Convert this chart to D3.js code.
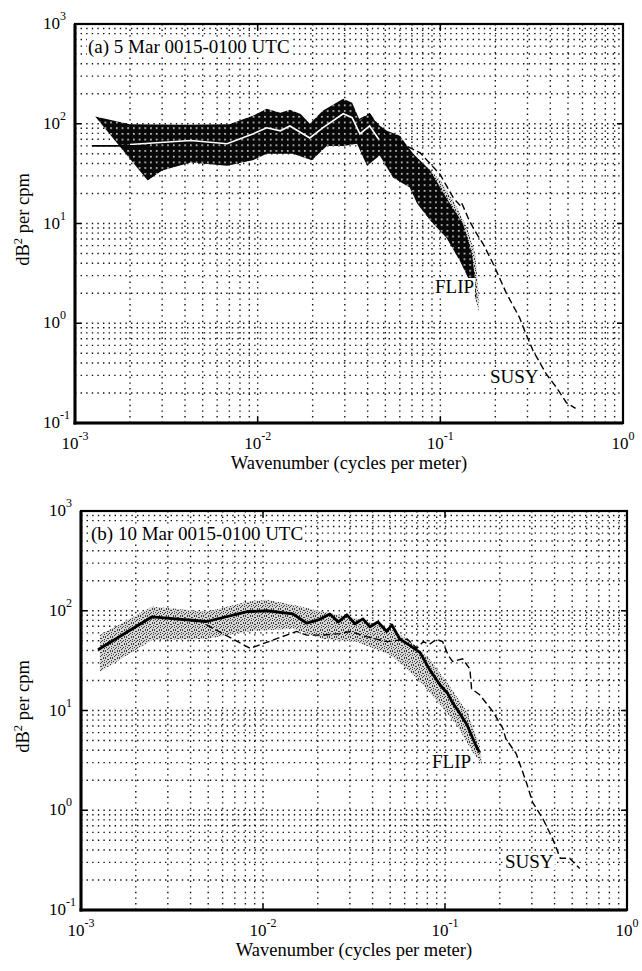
<!DOCTYPE html>
<html><head><meta charset="utf-8">
<script src="https://cdn.jsdelivr.net/npm/d3@7"></script>
<style>body{margin:0;background:#fff}svg{display:block}text{font-family:"Liberation Serif","Times New Roman",serif;fill:#000}</style>
</head><body>
<svg id="c" width="642" height="971"></svg>
<script>
// ---------------- DATA ----------------
const xTickExps = [-3, -2, -1, 0];
const yTickExps = [-1, 0, 1, 2, 3];
const xLabel = "Wavenumber (cycles per meter)";
const titleA = "(a) 5 Mar 0015-0100 UTC";
const titleB = "(b) 10 Mar 0015-0100 UTC";

// Panel (a): FLIP envelope (dark band)
const aBandUpperK = [0.00129, 0.002, 0.004, 0.007, 0.0094, 0.0112, 0.0133, 0.015, 0.0172, 0.0193, 0.0227, 0.0294, 0.0329, 0.0363, 0.041, 0.045, 0.051, 0.060, 0.071, 0.088, 0.108, 0.133, 0.149, 0.155];
const aBandUpperS = [118, 99, 98, 99, 120, 141, 129, 138, 125, 100, 135, 178, 162, 107, 129, 100, 85, 76, 50, 34, 18, 10, 5, 2.7];
const aBandLowerK = [0.00129, 0.0025, 0.003, 0.0043, 0.0068, 0.0094, 0.0112, 0.0156, 0.0198, 0.0239, 0.0294, 0.035, 0.0397, 0.0466, 0.055, 0.068, 0.0745, 0.088, 0.108, 0.128, 0.144, 0.158];
const aBandLowerS = [118, 27, 34, 41, 38, 43, 50, 50, 43, 60, 60, 63, 38, 48, 29, 23, 16, 10.7, 7.2, 4.2, 2.7, 1.7];
// Panel (a): FLIP mean (white line inside band)
const aMeanK = [0.002, 0.0043, 0.0068, 0.0094, 0.0112, 0.0133, 0.015, 0.0193, 0.0227, 0.0294, 0.0329, 0.0363, 0.041, 0.046];
const aMeanS = [62, 68, 63, 79, 91, 85, 95, 72, 91, 126, 115, 79, 95, 70];
// Panel (a): FLIP low-wavenumber solid segment
const aFlipK = [0.00124, 0.0025];
const aFlipS = [60, 60];
// Panel (a): stippled scatter right of the band
const aStipUpperK = [0.045, 0.05, 0.06, 0.075, 0.09, 0.1, 0.12, 0.14, 0.155, 0.162];
const aStipUpperS = [100, 85, 70, 45, 33, 27, 16, 9, 5, 2];
const aStipLowerK = [0.05, 0.065, 0.08, 0.1, 0.128, 0.15, 0.162];
const aStipLowerS = [45, 26, 15, 9, 4.5, 2.4, 1.3];
// Panel (a): SUSY (dashed)
const aSusyK = [0.036, 0.041, 0.046, 0.053, 0.06, 0.0776, 0.0997, 0.118, 0.129, 0.131, 0.144, 0.158, 0.171, 0.194, 0.23, 0.272, 0.285, 0.322, 0.38, 0.43, 0.49, 0.55];
const aSusyS = [110, 125, 95, 72, 65, 51, 31, 18, 15, 16, 10.7, 7.9, 6.3, 4.0, 2.0, 1.13, 0.9, 0.53, 0.31, 0.23, 0.16, 0.14];

// Panel (b): FLIP envelope (grey stipple)
const bBandUpperK = [0.00127, 0.00246, 0.0049, 0.0082, 0.0105, 0.0146, 0.0213, 0.0327, 0.05, 0.062, 0.082, 0.103, 0.132, 0.155, 0.16];
const bBandUpperS = [57, 110, 98, 123, 129, 115, 98, 83, 66, 52, 33, 19, 9.8, 4.5, 2.9];
const bBandLowerK = [0.00127, 0.00246, 0.0049, 0.0082, 0.0146, 0.0213, 0.0327, 0.042, 0.05, 0.062, 0.076, 0.094, 0.116, 0.142, 0.16];
const bBandLowerS = [24.5, 51, 52, 62, 66, 52, 49, 41, 36, 26, 18, 11.4, 7.2, 3.8, 2.9];
// Panel (b): FLIP (thick solid)
const bFlipK = [0.00124, 0.00246, 0.0049, 0.0082, 0.0105, 0.0146, 0.0174, 0.0205, 0.0233, 0.0259, 0.0289, 0.0320, 0.0354, 0.0387, 0.0428, 0.0479, 0.0510, 0.0565, 0.064, 0.073, 0.082, 0.094, 0.103, 0.11, 0.12, 0.132, 0.149, 0.155];
const bFlipS = [40.6, 87, 78, 98, 100, 93, 75, 82, 93, 77, 91, 74, 83, 69, 77, 62, 72, 52, 45, 38, 26, 18, 15, 12, 9.5, 7.2, 4.3, 3.8];
// Panel (b): SUSY (dashed)
const bSusyK = [0.0049, 0.0085, 0.0153, 0.0174, 0.0213, 0.0264, 0.0302, 0.037, 0.048, 0.062, 0.07, 0.076, 0.082, 0.09, 0.097, 0.104, 0.11, 0.125, 0.137, 0.14, 0.155, 0.183, 0.208, 0.216, 0.246, 0.28, 0.303, 0.344, 0.39, 0.43, 0.484, 0.55];
const bSusyS = [72, 42, 62, 57, 57, 59, 62, 55, 49, 52, 42, 49, 46, 52, 49, 36, 31, 33, 26, 16.5, 14.4, 9.8, 6.6, 5.2, 3.7, 1.9, 1.2, 0.83, 0.52, 0.33, 0.33, 0.26];

// ---------------- DRAW ----------------
const svg = d3.select("#c");
const defs = svg.append("defs");
// stipple texture
const pat = defs.append("pattern").attr("id", "stip").attr("width", 7).attr("height", 7).attr("patternUnits", "userSpaceOnUse");
pat.append("rect").attr("width", 7).attr("height", 7).attr("fill", "#d2d2d2");
[[0,0],[3,1],[5,0],[1,3],[4,3],[6,4],[2,5],[5,6],[0,6],[3,4],[6,2],[2,1]].forEach(p =>
  pat.append("rect").attr("x", p[0]).attr("y", p[1]).attr("width", 1).attr("height", 1).attr("fill", "#2a2a2a"));
// dark halftone texture (black with white dots)
const hat = defs.append("pattern").attr("id", "hatch").attr("width", 5.7).attr("height", 5.7).attr("patternUnits", "userSpaceOnUse");
hat.append("rect").attr("width", 5.7).attr("height", 5.7).attr("fill", "#080808");
hat.append("rect").attr("x", 2).attr("y", 2).attr("width", 1.5).attr("height", 1.5).attr("fill", "#fff");

const zip = (k, s) => k.map((v, i) => [v, s[i]]);

function panel(cfg) {
  const x = d3.scaleLog().domain([1e-3, 1]).range([cfg.left, cfg.right]);
  const y = d3.scaleLog().domain([1e-1, 1e3]).range([cfg.bottom, cfg.top]);
  const g = svg.append("g");
  const line = d3.line().x(d => x(d[0])).y(d => y(d[1]));
  const poly = (uk, us, lk, ls) => line(zip(uk, us).concat(zip(lk, ls).reverse())) + "Z";

  const xGrid = [], yGrid = [];
  for (let e = -3; e < 0; e++) for (let m = 1; m <= 9; m++) xGrid.push(m * Math.pow(10, e));
  for (let e = -1; e < 3; e++) for (let m = 1; m <= 9; m++) yGrid.push(m * Math.pow(10, e));

  const gg = g.append("g").attr("stroke", "#111").attr("stroke-width", 1.4)
    .attr("stroke-dasharray", "1.4,4.2").attr("fill", "none");
  gg.selectAll("line.gx").data(xGrid.slice(1)).join("line").attr("class", "gx")
    .attr("x1", d => x(d)).attr("x2", d => x(d)).attr("y1", cfg.top).attr("y2", cfg.bottom);
  gg.selectAll("line.gy").data(yGrid.slice(1)).join("line").attr("class", "gy")
    .attr("y1", d => y(d)).attr("y2", d => y(d)).attr("x1", cfg.left).attr("x2", cfg.right);

  cfg.draw(g, x, y, line, poly);

  // frame
  g.append("rect").attr("x", cfg.left).attr("y", cfg.top)
    .attr("width", cfg.right - cfg.left).attr("height", cfg.bottom - cfg.top)
    .attr("fill", "none").attr("stroke", "#000").attr("stroke-width", 2.2);
  g.append("line").attr("x1", cfg.left).attr("x2", cfg.left).attr("y1", cfg.top).attr("y2", cfg.bottom + 1.5)
    .attr("stroke", "#000").attr("stroke-width", 3);
  g.append("line").attr("x1", cfg.left - 1.5).attr("x2", cfg.right).attr("y1", cfg.bottom).attr("y2", cfg.bottom)
    .attr("stroke", "#000").attr("stroke-width", 3);

  // inward major ticks
  const tk = g.append("g").attr("stroke", "#000").attr("stroke-width", 1.5);
  xTickExps.forEach(e => {
    const xv = x(Math.pow(10, e));
    tk.append("line").attr("x1", xv).attr("x2", xv).attr("y1", cfg.bottom).attr("y2", cfg.bottom - 6);
    tk.append("line").attr("x1", xv).attr("x2", xv).attr("y1", cfg.top).attr("y2", cfg.top + 6);
  });
  yTickExps.forEach(e => {
    const yv = y(Math.pow(10, e));
    tk.append("line").attr("x1", cfg.left).attr("x2", cfg.left + 6).attr("y1", yv).attr("y2", yv);
    tk.append("line").attr("x1", cfg.right).attr("x2", cfg.right - 6).attr("y1", yv).attr("y2", yv);
  });

  // tick labels
  xTickExps.forEach(e => {
    const t = g.append("text").attr("x", x(Math.pow(10, e))).attr("y", cfg.bottom + 26)
      .attr("text-anchor", "middle").attr("font-size", 17);
    t.append("tspan").text("10");
    t.append("tspan").attr("dy", -9).attr("font-size", 12).text(String(e));
  });
  yTickExps.forEach(e => {
    const t = g.append("text").attr("x", cfg.left - 32).attr("y", y(Math.pow(10, e)) + 5)
      .attr("text-anchor", "start").attr("font-size", 17);
    t.append("tspan").text("10");
    t.append("tspan").attr("dy", -9).attr("font-size", 12).text(String(e));
  });

  // axis titles
  g.append("text").attr("x", (cfg.left + cfg.right) / 2).attr("y", cfg.bottom + 46)
    .attr("text-anchor", "middle").attr("font-size", 18.5).text(xLabel);
  const yl = g.append("text").attr("transform", `translate(29,${(cfg.top + cfg.bottom) / 2 - 4}) rotate(-90)`)
    .attr("text-anchor", "middle").attr("font-size", 18.5);
  yl.append("tspan").text("dB");
  yl.append("tspan").attr("dy", -7).attr("font-size", 12.5).text("2");
  yl.append("tspan").attr("dy", 7).text(" per cpm");

  // labels with white background
  function label(txt, px, py) {
    const t = g.append("text").attr("x", px).attr("y", py).attr("font-size", 19).text(txt);
    const b = t.node().getBBox();
    g.insert("rect", () => t.node()).attr("x", b.x - 1).attr("y", b.y + 2)
      .attr("width", b.width + 2).attr("height", b.height - 4).attr("fill", "#fff");
  }
  label(cfg.title, cfg.left + cfg.titleDx, cfg.top + cfg.titleDy);
  label("FLIP", cfg.flip[0], cfg.flip[1]);
  label("SUSY", cfg.susy[0], cfg.susy[1]);
}

panel({
  left: 75, top: 24, right: 623, bottom: 423, title: titleA, titleDx: 13, titleDy: 29,
  flip: [435, 293], susy: [490, 383],
  draw(g, x, y, line, poly) {
    g.append("path").attr("d", poly(aStipUpperK, aStipUpperS, aStipLowerK, aStipLowerS))
      .attr("fill", "url(#stip)").attr("opacity", 0.95);
    g.append("path").attr("d", poly(aBandUpperK, aBandUpperS, aBandLowerK, aBandLowerS))
      .attr("fill", "url(#hatch)");
    g.append("path").attr("d", line(zip(aMeanK, aMeanS))).attr("fill", "none")
      .attr("stroke", "#fff").attr("stroke-width", 1.6);
    g.append("path").attr("d", line(zip(aFlipK, aFlipS))).attr("fill", "none")
      .attr("stroke", "#000").attr("stroke-width", 1.8);
    g.append("path").attr("d", line(zip(aSusyK, aSusyS))).attr("fill", "none")
      .attr("stroke", "#000").attr("stroke-width", 1.4).attr("stroke-dasharray", "7,3.5");
  }
});

panel({
  left: 81, top: 511, right: 627, bottom: 910, title: titleB, titleDx: 10, titleDy: 29,
  flip: [432, 768], susy: [505, 868],
  draw(g, x, y, line, poly) {
    g.append("path").attr("d", poly(bBandUpperK, bBandUpperS, bBandLowerK, bBandLowerS))
      .attr("fill", "url(#stip)").attr("opacity", 0.9);
    g.append("path").attr("d", line(zip(bSusyK, bSusyS))).attr("fill", "none")
      .attr("stroke", "#000").attr("stroke-width", 1.4).attr("stroke-dasharray", "7,3.5");
    g.append("path").attr("d", line(zip(bFlipK, bFlipS))).attr("fill", "none")
      .attr("stroke", "#000").attr("stroke-width", 2.8).attr("stroke-linejoin", "round");
  }
});
</script>
</body></html>
